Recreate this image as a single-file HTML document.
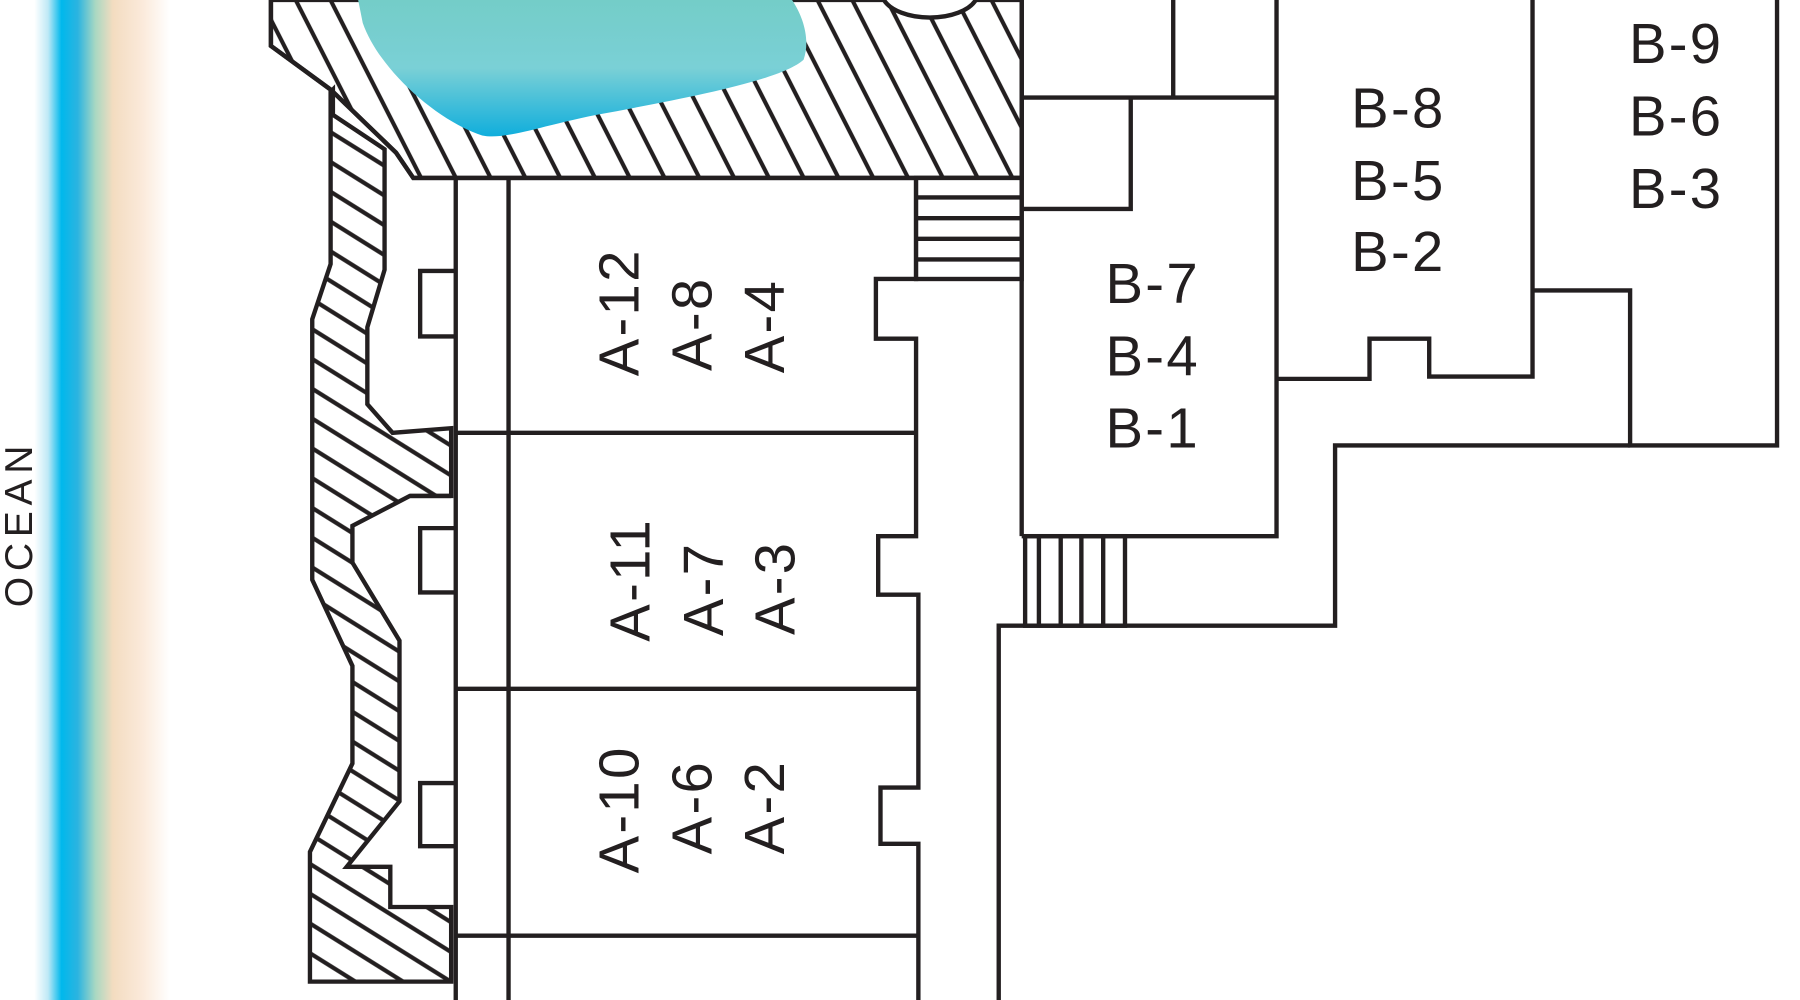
<!DOCTYPE html>
<html><head><meta charset="utf-8"><style>
html,body{margin:0;padding:0;background:#fff;width:1800px;height:1000px;overflow:hidden}
svg{display:block}
text{font-family:"Liberation Sans",sans-serif;fill:#231f20}
</style></head><body>
<svg width="1800" height="1000" viewBox="0 0 1568 871" preserveAspectRatio="none" xmlns="http://www.w3.org/2000/svg">
<defs>
<linearGradient id="oc" x1="0" x2="1" y1="0" y2="0">
<stop offset="0" stop-color="#fff"/>
<stop offset="0.1" stop-color="#bfe9f6"/>
<stop offset="0.2" stop-color="#00b8ec"/>
<stop offset="0.32" stop-color="#2cb4e0"/>
<stop offset="0.45" stop-color="#a9d8c2"/>
<stop offset="0.58" stop-color="#f3dcc0"/>
<stop offset="0.8" stop-color="#fbeadb"/>
<stop offset="1" stop-color="#fff"/>
</linearGradient>
<linearGradient id="pool" x1="0" x2="0" y1="0" y2="1">
<stop offset="0" stop-color="#74cdc8"/>
<stop offset="0.5" stop-color="#7ad0d6"/>
<stop offset="1" stop-color="#10aedc"/>
</linearGradient>
<pattern id="h1" width="27" height="200" patternUnits="userSpaceOnUse" patternTransform="rotate(-27)">
<line x1="13.5" y1="0" x2="13.5" y2="200" stroke="#231f20" stroke-width="3.6"/>
</pattern>
<pattern id="h2" width="200" height="22" patternUnits="userSpaceOnUse" patternTransform="rotate(32)">
<line x1="0" y1="11" x2="200" y2="11" stroke="#231f20" stroke-width="3.6"/>
</pattern>
</defs>
<rect x="30" y="0" width="118" height="871" fill="url(#oc)"/>
<text transform="translate(28,456) rotate(-90)" text-anchor="middle" font-size="34" letter-spacing="5">OCEAN</text>

<g stroke="#231f20" stroke-width="3.8" fill="none" stroke-linejoin="miter">
<polygon points="236,0 236,40 288,78 345,133 360,155 890,155 890,0" fill="url(#h1)"/>
<path d="M236,0 L236,40 L288,78 L345,133 L360,155 L890,155 L890,0" fill="none"/>
<polygon points="290,78 290,100 335,130 335,235 320,285 320,352 342,377 393,373 393,432 357,432 307,458 307,490 348,558 348,698 302,755 340,755 340,790 393,790 393,855 270,855 270,742 307,665 307,580 272,505 272,278 288,230 288,80" fill="url(#h2)"/>
<line x1="393" y1="432" x2="357" y2="432"/>
</g>
<path d="M312,0 L690,0 C700,15 706,35 700,52 C680,70 600,85 520,100 C470,110 440,122 420,118 C380,105 330,60 316,20 Z" fill="url(#pool)"/>
<path d="M770,0 A42,22 0 0 0 850,0" fill="#fff" stroke="#231f20" stroke-width="3.8"/>

<g stroke="#231f20" stroke-width="3.8" fill="none">
<line x1="397" y1="155" x2="397" y2="871"/>
<line x1="443" y1="155" x2="443" y2="871"/>
<line x1="397" y1="377" x2="798" y2="377"/>
<line x1="397" y1="600" x2="800" y2="600"/>
<line x1="397" y1="815" x2="800" y2="815"/>
<polyline points="397,236 366,236 366,293 397,293"/>
<polyline points="397,460 366,460 366,516 397,516"/>
<polyline points="397,682 366,682 366,737 397,737"/>
<polyline points="798,155 798,243 763,243 763,295 798,295 798,467 765,467 765,518 800,518 800,686 767,686 767,735 800,735 800,871"/>
<rect x="798" y="155" width="92" height="88" fill="#fff"/>
<line x1="798" y1="172" x2="890" y2="172"/><line x1="798" y1="190" x2="890" y2="190"/><line x1="798" y1="208" x2="890" y2="208"/><line x1="798" y1="226" x2="890" y2="226"/>
<line x1="890" y1="0" x2="890" y2="467"/>
<line x1="1022" y1="0" x2="1022" y2="85"/>
<line x1="890" y1="85" x2="1112" y2="85"/>
<polyline points="890,182 985,182 985,85"/>
<polyline points="890,467 1112,467 1112,0"/>
<polyline points="1112,330 1193,330 1193,295 1245,295 1245,328 1335,328 1335,0"/>
<polyline points="1335,253 1420,253 1420,388 1548,388 1548,0"/>
<polyline points="1420,388 1163,388 1163,545 870,545 870,871"/>
<rect x="893" y="467" width="87" height="78"/>
<line x1="905" y1="467" x2="905" y2="545"/><line x1="924" y1="467" x2="924" y2="545"/><line x1="942" y1="467" x2="942" y2="545"/><line x1="961" y1="467" x2="961" y2="545"/>
</g>

<g font-size="49" letter-spacing="2">
<text transform="translate(556,272) rotate(-90)" text-anchor="middle">A-12</text>
<text transform="translate(620,282) rotate(-90)" text-anchor="middle">A-8</text>
<text transform="translate(683,284) rotate(-90)" text-anchor="middle">A-4</text>
<text transform="translate(566,505) rotate(-90)" text-anchor="middle">A-11</text>
<text transform="translate(630,513) rotate(-90)" text-anchor="middle">A-7</text>
<text transform="translate(692,512) rotate(-90)" text-anchor="middle">A-3</text>
<text transform="translate(556,705) rotate(-90)" text-anchor="middle">A-10</text>
<text transform="translate(620,703) rotate(-90)" text-anchor="middle">A-6</text>
<text transform="translate(683,703) rotate(-90)" text-anchor="middle">A-2</text>
<text x="963" y="264">B-7</text>
<text x="963" y="327">B-4</text>
<text x="963" y="390">B-1</text>
<text x="1177" y="111">B-8</text>
<text x="1177" y="174">B-5</text>
<text x="1177" y="236">B-2</text>
<text x="1419" y="55">B-9</text>
<text x="1419" y="118">B-6</text>
<text x="1419" y="181">B-3</text>
</g>
</svg>
</body></html>
